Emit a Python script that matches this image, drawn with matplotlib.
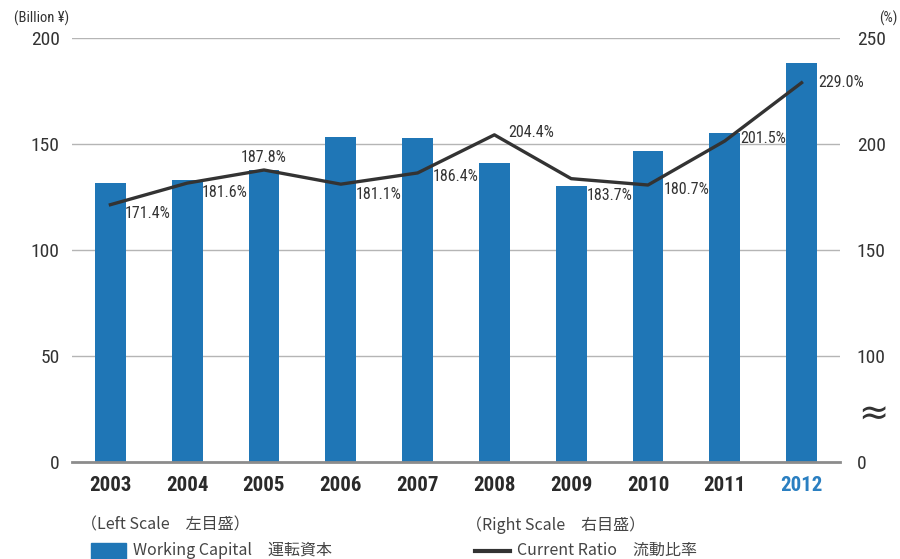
import matplotlib
matplotlib.use("Agg")
import matplotlib.pyplot as plt
from matplotlib.patches import Rectangle
from matplotlib.lines import Line2D

# datos
years = ["2003", "2004", "2005", "2006", "2007", "2008", "2009", "2010", "2011", "2012"]
working_capital = [131.6, 133.1, 137.8, 153.4, 152.8, 141.2, 130.2, 146.8, 155.3, 188.5]
current_ratio = [171.4, 181.6, 187.8, 181.1, 186.4, 204.4, 183.7, 180.7, 201.5, 229.0]

left_ticks = [0, 50, 100, 150, 200]
right_ticks = [50, 100, 150, 200, 250]
right_tick_labels = ["0", "100", "150", "200", "250"]

# desplazamiento de etiquetas (pixeles) y alineación
label_offsets = [(14, -9, "left"), (15, -9, "left"), (0, 12, "center"), (15, -10, "left"),
                 (15, -4, "left"), (14, 2, "left"), (16, -17, "left"), (16, -4, "left"),
                 (15, 2, "left"), (17, 0, "left")]

narrow = ["Roboto Condensed", "DejaVu Sans"]
jp = ["Noto Sans CJK JP", "DejaVu Sans"]
bar_color = "#1f76b6"
line_color = "#333333"
text_color = "#333333"

fig = plt.figure(figsize=(9, 5.59), dpi=100)
ax = fig.add_axes([0.08, 0.174, 0.8533, 0.7575])
ax2 = ax.twinx()

x = list(range(len(years)))
ax.bar(x, working_capital, width=0.40, color=bar_color, zorder=2)
ax.set_xlim(-0.5, len(years) - 0.5)
ax.set_ylim(0, 200)
ax.set_yticks(left_ticks)
ax.set_yticklabels([str(t) for t in left_ticks], family=narrow, fontsize=14, color=text_color)
for t in left_ticks[1:]:
    ax.axhline(t, color="#b5b5b5", lw=1, zorder=1)
ax.set_xticks(x)
ax.set_xticklabels(years, family=narrow, fontsize=15, fontweight="bold", color="#2a2a2a")
ax.get_xticklabels()[-1].set_color("#2a7fc1")
ax.tick_params(axis="x", length=0, pad=10)
ax.tick_params(axis="y", length=0, pad=9)
for s in ["top", "right", "left"]:
    ax.spines[s].set_visible(False)
ax.spines["bottom"].set_color("#8c8c8c")
ax.spines["bottom"].set_linewidth(2)
ax.spines["bottom"].set_zorder(3)

ax2.plot(x, current_ratio, color=line_color, lw=2.4, zorder=4)
ax2.set_ylim(50, 250)
ax2.set_yticks(right_ticks)
ax2.set_yticklabels(right_tick_labels, family=narrow, fontsize=14, color=text_color)
ax2.tick_params(axis="y", length=0, pad=12)
for s in ax2.spines.values():
    s.set_visible(False)

for i, v in enumerate(current_ratio):
    dx, dy, ha = label_offsets[i]
    ax2.annotate(f"{v:.1f}%", (x[i], v), xytext=(dx, dy), textcoords="offset pixels",
                 ha=ha, va="center", family=narrow, fontsize=11.5, color=text_color)

# símbolo de corte del eje derecho
fig.text(873 / 900, 1 - 415 / 559, "≈", ha="center", va="center", fontsize=26,
         color=text_color, family=["DejaVu Sans"])

# unidades
fig.text(14 / 900, 1 - 18 / 559, "(Billion ¥)", ha="left", va="center",
         family=narrow, fontsize=10.5, color=text_color)
fig.text(898 / 900, 1 - 18 / 559, "(%)", ha="right", va="center",
         family=narrow, fontsize=10.5, color=text_color)

# leyenda
fig.text(81 / 900, 1 - 525 / 559, "（Left Scale　左目盛）", ha="left", va="center",
         family=jp, fontsize=11.5, color="#444444")
fig.text(466 / 900, 1 - 525 / 559, "（Right Scale　右目盛）", ha="left", va="center",
         family=jp, fontsize=11.5, color="#444444")
fig.patches.append(Rectangle((91 / 900, 0), 35 / 900, 16 / 559, transform=fig.transFigure,
                             color=bar_color))
fig.text(133 / 900, 1 - 550 / 559, "Working Capital　運転資本", ha="left", va="center",
         family=jp, fontsize=11.5, color="#444444")
fig.lines.append(Line2D([475 / 900, 510 / 900], [1 - 551 / 559, 1 - 551 / 559],
                        transform=fig.transFigure, color=line_color, lw=3))
fig.text(517 / 900, 1 - 550 / 559, "Current Ratio　流動比率", ha="left", va="center",
         family=jp, fontsize=11.5, color="#444444")

fig.savefig("out.png", dpi=100)
